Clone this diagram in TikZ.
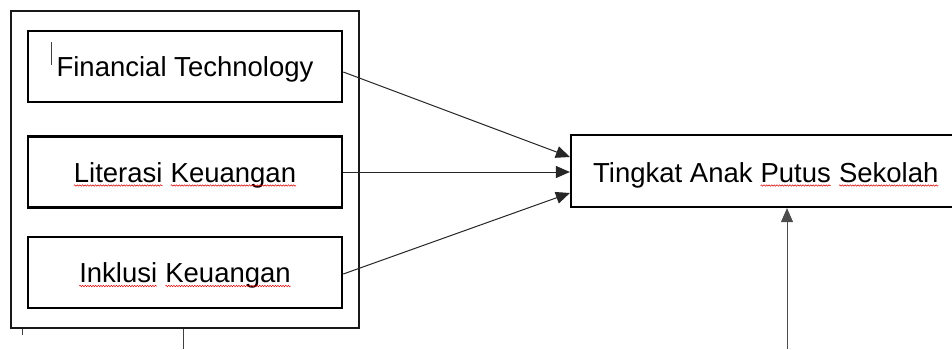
\documentclass[tikz,border=0pt]{standalone}
\usepackage{fontspec}
\setmainfont{Liberation Sans}
\usetikzlibrary{arrows.meta,decorations.pathmorphing}
\newcommand\redwave[1]{\tikz[baseline=(w.base)]{\node[draw=none, inner sep=0pt, outer sep=0pt, minimum width=0pt, minimum height=0pt, text height=, text depth=, anchor=base west] (w) at (0pt,0pt) {#1};\draw[draw=red!85!black, line width=0.5pt, decorate, decoration={snake, amplitude=0.7pt, segment length=2.6pt}] ([yshift=-3.5pt]w.base west) -- ([yshift=-3.5pt]w.base east);}}
\tikzset{
  outerbox/.style={draw=black!90, line width=2pt, minimum width=348pt, minimum height=317pt, inner sep=0pt},
  varbox/.style={draw=black, line width=2.6pt, minimum width=314pt, minimum height=71pt, inner sep=0pt,
    font=\fontsize{27.5}{32}\selectfont, text height=20pt, text depth=0pt},
  targetbox/.style={draw=black, line width=2.2pt, minimum width=420pt, minimum height=72pt, inner sep=0pt},
  labeltext/.style={inner sep=0pt, anchor=base west, font=\fontsize{27.5}{32}\selectfont},
  arr/.style={draw=black!85, line width=1pt, -{Triangle[length=14pt,width=12pt]}},
  thinline/.style={draw=black!75, line width=0.9pt}
}
\begin{document}
\begin{tikzpicture}[x=1pt,y=-1pt]
\clip (0,0) rectangle (952,349);
\fill[white] (0,0) rectangle (952,349);
\node[outerbox] (outer) at (185,169.5) {};
\node[varbox] (f) at (185,66.5) {Financial Technology};
\node[varbox] (l) at (185,172) {\redwave{Literasi} \redwave{Keuangan}};
\node[varbox] (i) at (185,272.5) {\redwave{Inklusi} \redwave{Keuangan}};
\node[targetbox] (t) at (781,171) {};
\node[labeltext] (tl) at (593,182) {Tingkat Anak \redwave{Putus} \redwave{Sekolah}};
\draw[arr] ([yshift=-5.5pt]f.east) -- ([yshift=14pt]t.west);
\draw[arr] (l.east) -- (l.east -| t.west);
\draw[arr] ([yshift=-1.5pt]i.east) -- ([yshift=-22pt]t.west);
\coordinate (b) at (787,349);
\draw[arr, draw=black!70] (b) -- (b |- t.south);
\coordinate (c1) at (183,349);
\draw[thinline] (c1) -- (c1 |- outer.south);
\coordinate (c2) at (22,335);
\draw[thinline] (c2) -- (c2 |- outer.south);
\coordinate (k1) at (51,42);
\coordinate (k2) at (51,65);
\draw[thinline] (k1) -- (k2);
\end{tikzpicture}
\end{document}
